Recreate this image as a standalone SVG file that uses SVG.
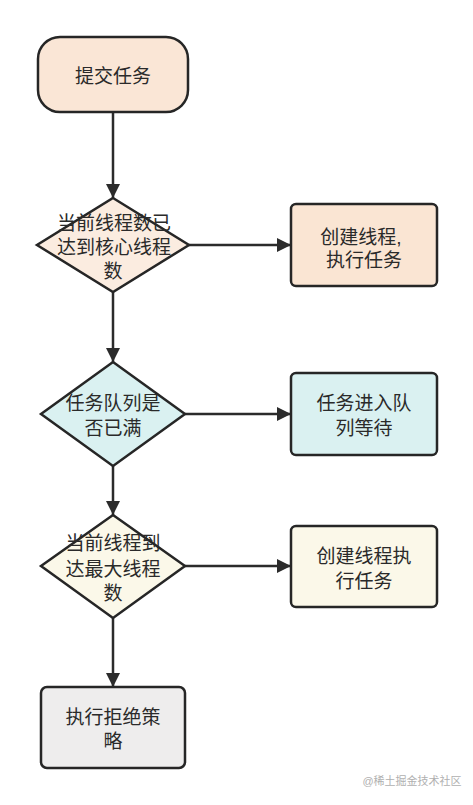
<svg xmlns="http://www.w3.org/2000/svg" width="473" height="805" viewBox="0 0 473 805">
<defs>
<marker id="ah" markerUnits="userSpaceOnUse" markerWidth="16" markerHeight="16" viewBox="0 0 16 16" refX="15" refY="8" orient="auto">
<path d="M1,1 L15,8 L1,15 Z" fill="#2b2b2b"/>
</marker>
<style>
.n{stroke:#262626;stroke-width:2.5;}
.t{font-family:"Liberation Sans","Noto Sans CJK SC",sans-serif;font-size:19px;fill:#2a2a2a;text-anchor:middle;dominant-baseline:central;}
.e{stroke:#2b2b2b;stroke-width:2.5;fill:none;marker-end:url(#ah);}
</style>
</defs>
<rect width="473" height="805" fill="#ffffff"/>
<g id="edges">
<line class="e" x1="113" y1="112" x2="113" y2="198"/>
<line class="e" x1="113" y1="292" x2="113" y2="362"/>
<line class="e" x1="113" y1="465" x2="113" y2="515"/>
<line class="e" x1="113" y1="618" x2="113" y2="687"/>
<line class="e" x1="189" y1="245" x2="291" y2="245"/>
<line class="e" x1="185" y1="414" x2="291" y2="414"/>
<line class="e" x1="185" y1="566" x2="291" y2="566"/>
</g>
<g id="start">
<rect class="n" x="38" y="37" width="150" height="75" rx="22" fill="#fae6d6"/>
<text class="t" x="113" y="76">提交任务</text>
</g>
<g id="d1">
<polygon class="n" points="113,198 189,245 113,292 37,245" fill="#fbece0"/>
<text class="t" x="114" y="223">当前线程数已</text>
<text class="t" x="114" y="247">达到核心线程</text>
<text class="t" x="113" y="271">数</text>
</g>
<g id="b1">
<rect class="n" x="291" y="204" width="146" height="82" rx="5" fill="#fae5d3"/>
<text class="t" x="361" y="237">创建线程,</text>
<text class="t" x="364" y="260">执行任务</text>
</g>
<g id="d2">
<polygon class="n" points="113,362 185,414 113,466 41,414" fill="#daf1f1"/>
<text class="t" x="113" y="403">任务队列是</text>
<text class="t" x="113" y="428">否已满</text>
</g>
<g id="b2">
<rect class="n" x="291" y="373" width="146" height="82" rx="5" fill="#daf1f1"/>
<text class="t" x="364" y="403">任务进入队</text>
<text class="t" x="364" y="428">列等待</text>
</g>
<g id="d3">
<polygon class="n" points="113,515 185,566 113,618 41,566" fill="#fbf8e9"/>
<text class="t" x="113" y="543">当前线程到</text>
<text class="t" x="113" y="569">达最大线程</text>
<text class="t" x="113" y="593">数</text>
</g>
<g id="b3">
<rect class="n" x="291" y="526" width="146" height="81" rx="5" fill="#fbf8e9"/>
<text class="t" x="364" y="556">创建线程执</text>
<text class="t" x="364" y="581">行任务</text>
</g>
<g id="end">
<rect class="n" x="41" y="687" width="144" height="81" rx="6" fill="#eeeded"/>
<text class="t" x="113" y="717">执行拒绝策</text>
<text class="t" x="113" y="741">略</text>
</g>
<text x="412" y="785" style="font-family:'Liberation Sans','Noto Sans CJK SC',sans-serif;font-size:11px;fill:#b0b0b0;text-anchor:middle;">@稀土掘金技术社区</text>
</svg>
